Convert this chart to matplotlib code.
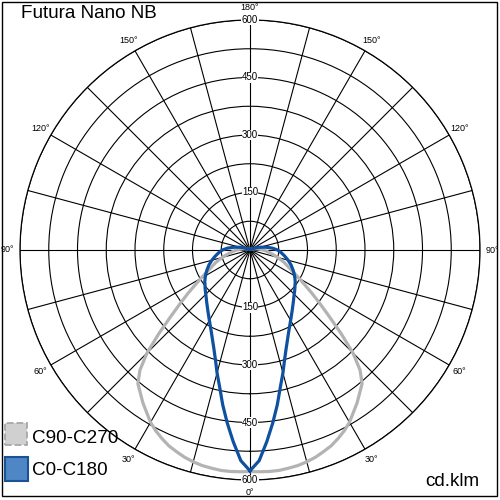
import numpy as np
import matplotlib
matplotlib.use("Agg")
import matplotlib.pyplot as plt
from matplotlib.patches import Rectangle

plt.rcParams["font.family"] = ["Liberation Sans", "DejaVu Sans"]

# gamma angle (deg from nadir) and intensities (cd/klm)
gamma = [0, 2.5, 5, 7.5, 10, 12.5, 15, 17.5, 20, 22.5, 25, 27.5, 30, 35, 40, 42.5,
         45, 47.5, 50, 52.5, 55, 57.5, 60, 62.5, 65, 70, 75, 80, 85, 90, 95, 100,
         105, 110, 115, 120, 130, 140, 150, 160, 170, 180]
c0_c180 = [576, 550, 502, 455, 410, 366, 332, 300, 275, 255, 238, 224, 212, 192, 176,
           169, 163, 158, 153, 148, 144, 139, 134, 129, 124, 114, 103, 92, 82, 72,
           58, 42, 28, 16, 8, 3, 1, 1, 1, 1, 1, 1]
c90_c270 = [578, 579, 580, 580, 578, 576, 572, 567, 560, 553, 543, 532, 519, 487, 455,
            425, 380, 322, 270, 230, 198, 170, 148, 130, 115, 95, 75, 58, 45, 35,
            25, 18, 12, 8, 5, 3, 2, 2, 2, 2, 2, 2]

ring_values = [75, 150, 225, 300, 375, 450, 525, 600]
ring_labels = ["150", "300", "450", "600"]
angle_labels = [0, 30, 60, 90, 120, 150, 180]

title = "Futura Nano NB"
unit = "cd.klm"
series_names = ["C90-C270", "C0-C180"]


def mirrored(values):
    # same curve on both half-planes (C0 / C180, C90 / C270)
    g = np.array(gamma, dtype=float)
    v = np.array(values, dtype=float)
    theta = np.concatenate([g, 360 - g[::-1]])
    r = np.concatenate([v, v[::-1]])
    return np.deg2rad(theta), r


fig = plt.figure(figsize=(5, 5), dpi=100)
ax = fig.add_axes([0.04, 0.04, 0.92, 0.92], projection="polar")
ax.set_theta_zero_location("S")
ax.set_ylim(0, 600)
ax.set_rticks(ring_values)
ax.set_yticklabels([])
ax.set_xticks(np.deg2rad(np.arange(0, 360, 15)))
ax.set_xticklabels([])
ax.grid(True, color="black", linewidth=0.8)
ax.spines["polar"].set_color("black")
ax.spines["polar"].set_linewidth(0.9)
ax.set_facecolor("white")

th, rr = mirrored(c90_c270)
ax.plot(th, rr, color="#b3b3b3", linewidth=2.3, zorder=3)
th, rr = mirrored(c0_c180)
ax.plot(th, rr, color="#0f51a0", linewidth=2.3, zorder=4)

# radial labels on the vertical axis
for lab in ring_labels:
    for t in (np.pi, 0.0):
        ax.text(t, float(lab), lab, ha="center", va="center", fontsize=7,
                bbox=dict(facecolor="white", edgecolor="none", pad=0.3), zorder=5)

# angle labels around the circle
for a in angle_labels:
    for t in {a, (360 - a) % 360}:
        ax.text(np.deg2rad(t), 632, f"{a}°", ha="center", va="center", fontsize=6.5,
                clip_on=False)

fig.text(0.042, 0.965, title, fontsize=13.6, ha="left", va="baseline")
fig.text(0.958, 0.028, unit, fontsize=13.6, ha="right", va="baseline")

# legend swatches
fig.patches.append(Rectangle((0.01, 0.11), 0.044, 0.044, transform=fig.transFigure,
                             facecolor="#d0d0d0", edgecolor="#a8a8a8", linewidth=1.3,
                             linestyle="--"))
fig.patches.append(Rectangle((0.01, 0.038), 0.046, 0.048, transform=fig.transFigure,
                             facecolor="#4f86c6", edgecolor="#1c5294", linewidth=1.5))
fig.text(0.064, 0.114, series_names[0], fontsize=13.6, ha="left", va="baseline")
fig.text(0.064, 0.05, series_names[1], fontsize=13.6, ha="left", va="baseline")

# frame round the whole picture
fig.patches.append(Rectangle((0.003, 0.008), 0.991, 0.989, transform=fig.transFigure,
                             facecolor="none", edgecolor="black", linewidth=1.0))

fig.savefig("out.png", dpi=100)
